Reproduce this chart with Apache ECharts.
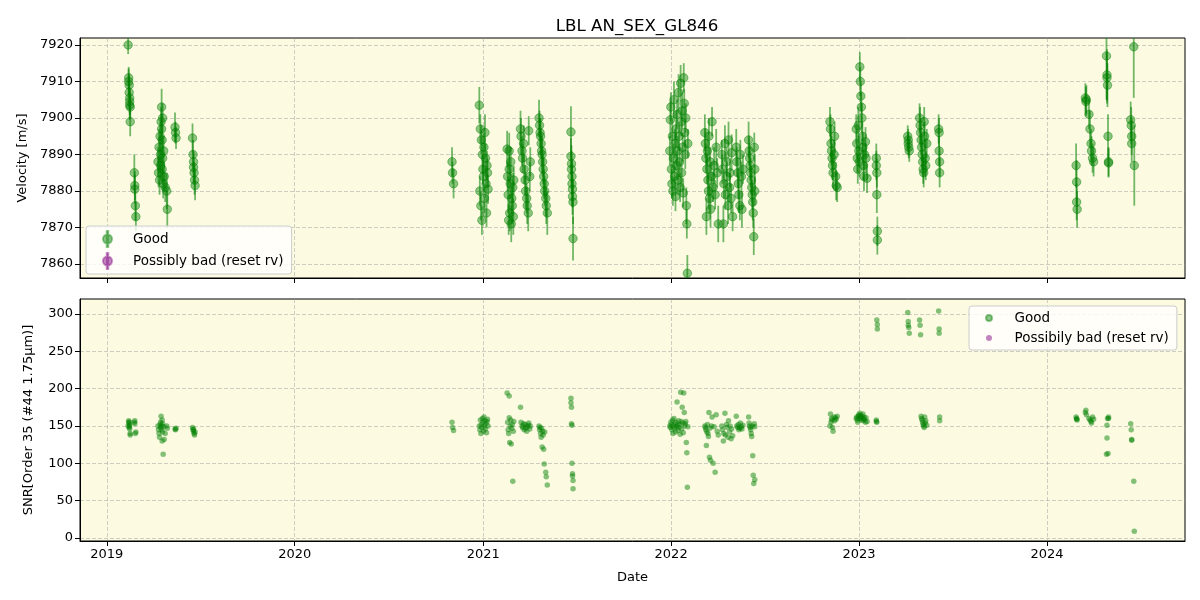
<!DOCTYPE html>
<html>
<head>
<meta charset="utf-8">
<script src="https://cdn.jsdelivr.net/npm/echarts@6/dist/echarts.min.js"></script>
<style>
html,body{margin:0;padding:0;background:#fff;}
#chart{width:1200px;height:600px;}
</style>
</head>
<body>
<div id="chart"></div>
<script>
// ---------------- DATA (one line per observing season/cluster) ----------------
const obsDates = [
'2019-02-11','2019-02-12','2019-02-12','2019-02-13','2019-02-13','2019-02-14','2019-02-14','2019-02-14','2019-02-15','2019-02-15',
'2019-02-23','2019-02-24','2019-02-24','2019-02-25','2019-02-26',
'2019-04-10','2019-04-11','2019-04-12','2019-04-13','2019-04-14','2019-04-15','2019-04-15','2019-04-16','2019-04-17','2019-04-17','2019-04-18','2019-04-18','2019-04-19','2019-04-19','2019-04-20','2019-04-21','2019-04-22','2019-04-24','2019-04-27','2019-04-28',
'2019-05-13','2019-05-14','2019-05-15',
'2019-06-16','2019-06-17','2019-06-18','2019-06-18','2019-06-19','2019-06-20','2019-06-21',
'2020-11-01','2020-11-02','2020-11-04',
'2020-12-24','2020-12-25','2020-12-26','2020-12-27','2020-12-28','2020-12-29','2020-12-30','2020-12-31','2021-01-01','2021-01-02','2021-01-03','2021-01-04','2021-01-05','2021-01-06','2021-01-07','2021-01-08','2021-01-09','2021-01-10',
'2021-02-16','2021-02-17','2021-02-18','2021-02-19','2021-02-20','2021-02-20','2021-02-21','2021-02-22','2021-02-23','2021-02-24','2021-02-25','2021-02-26','2021-02-27','2021-02-28','2021-03-01',
'2021-03-14','2021-03-15','2021-03-17','2021-03-18','2021-03-20','2021-03-21','2021-03-23','2021-03-24','2021-03-26','2021-03-27','2021-03-29','2021-03-30','2021-04-01','2021-04-02',
'2021-04-19','2021-04-20','2021-04-21','2021-04-22','2021-04-23','2021-04-24','2021-04-25','2021-04-26','2021-04-27','2021-04-28','2021-04-29','2021-04-30','2021-05-02','2021-05-03','2021-05-05',
'2021-06-20','2021-06-20','2021-06-21','2021-06-21','2021-06-22','2021-06-22','2021-06-23','2021-06-23','2021-06-24','2021-06-24',
'2021-12-29','2021-12-30','2021-12-31','2022-01-01','2022-01-02','2022-01-03','2022-01-04','2022-01-05','2022-01-06','2022-01-07','2022-01-08','2022-01-09','2022-01-10','2022-01-11','2022-01-12','2022-01-13','2022-01-14','2022-01-15','2022-01-16','2022-01-17','2022-01-18','2022-01-19','2022-01-20','2022-01-21','2022-01-22','2022-01-23','2022-01-24','2022-01-25','2022-01-26','2022-01-27','2022-01-28','2022-01-29','2022-01-30','2022-01-31','2022-02-01','2022-02-02',
'2022-03-07','2022-03-08','2022-03-09','2022-03-10','2022-03-11','2022-03-12','2022-03-13','2022-03-14','2022-03-15','2022-03-16','2022-03-17','2022-03-18','2022-03-20','2022-03-21','2022-03-23','2022-03-25','2022-03-27','2022-03-29','2022-03-31','2022-04-02',
'2022-04-09','2022-04-10','2022-04-12','2022-04-13','2022-04-15','2022-04-16','2022-04-18','2022-04-19','2022-04-21','2022-04-22','2022-04-24','2022-04-25','2022-04-27','2022-04-28','2022-04-30',
'2022-05-07','2022-05-08','2022-05-10','2022-05-11','2022-05-12','2022-05-14','2022-05-15','2022-05-17','2022-05-18','2022-05-20',
'2022-05-31','2022-06-01','2022-06-02','2022-06-03','2022-06-04','2022-06-05','2022-06-06','2022-06-07','2022-06-08','2022-06-09','2022-06-10','2022-06-11','2022-06-12','2022-06-12',
'2022-11-05','2022-11-06','2022-11-07','2022-11-08','2022-11-09','2022-11-10','2022-11-11','2022-11-13','2022-11-14','2022-11-16','2022-11-17','2022-11-19',
'2022-12-26','2022-12-27','2022-12-28','2022-12-29','2022-12-30','2022-12-31','2023-01-01','2023-01-02','2023-01-03','2023-01-04','2023-01-05','2023-01-06','2023-01-07','2023-01-08','2023-01-09','2023-01-10','2023-01-11','2023-01-13','2023-01-14','2023-01-16',
'2023-02-03','2023-02-03','2023-02-04','2023-02-04','2023-02-05','2023-02-05',
'2023-04-05','2023-04-06','2023-04-06','2023-04-07','2023-04-08',
'2023-04-28','2023-04-29','2023-04-30','2023-05-01','2023-05-02','2023-05-03','2023-05-04','2023-05-05','2023-05-06','2023-05-07','2023-05-08','2023-05-09','2023-05-10','2023-05-12',
'2023-06-04','2023-06-05','2023-06-05','2023-06-06','2023-06-06',
'2024-02-26','2024-02-27','2024-02-27','2024-02-28',
'2024-03-15','2024-03-16','2024-03-17','2024-03-22','2024-03-24','2024-03-26','2024-03-27','2024-03-29','2024-03-31',
'2024-04-25','2024-04-26','2024-04-26','2024-04-27','2024-04-28','2024-04-29','2024-04-29',
'2024-06-11','2024-06-12','2024-06-13','2024-06-13','2024-06-17','2024-06-18'
];
const rvValues = [
7920.0,7911.0,7910.0,7909.0,7907.0,7905.5,7904.5,7903.5,7903.0,7899.0,
7885.0,7881.5,7880.5,7876.0,7873.0,
7888,7885,7892,7883,7895,7890,7887,7899,7903,7897,7894,7886,7889,7900,7882,7891,7884,7881,7880,7875,
7897.5,7896,7894.5,
7894.5,7890,7888,7886.5,7885,7883,7881.5,
7888,7885,7882,
7903.5,7880,7897,7876,7894,7872,7890,7886,7884,7892,7878,7896,7889,7882,7874,7887,7885,7880.5,
7891.5,7884,7879,7872,7891,7886,7874,7882,7888,7871,7878,7876,7881,7873,7883,
7897,7895,7891,7889,7893,7886,7883,7880,7878,7876,7874,7896.5,7884,7888,
7900,7898,7896,7895,7893,7891,7890,7888,7886,7884,7882,7880,7878,7876,7874,
7896.2,7889.5,7887.5,7886,7884,7882,7880.5,7878.5,7877,7867,
7891,7899.5,7903,7886,7882,7895,7880,7889,7905,7884,7893,7878.5,7897,7887,7901,7891,7883,7907,7895,7888,7881,7909.5,7899,7885,7902,7892,7879.5,7911,7904,7896,7890,7900,7876,7871,7857.5,7893,
7896,7893,7889,7873,7886,7891,7883,7880,7895,7878,7888,7875,7884,7899,7881,7887,7879,7892,7885,7871,
7890,7886,7871,7882,7893,7879,7888,7884,7876,7894,7881,7885,7878,7890.5,7873,
7892,7888,7885,7882,7879,7876,7890,7884,7875,7886,
7894,7891,7889,7887,7885,7883,7881,7879,7877,7874,7867.5,7892,7886,7880,
7899,7897,7893,7891,7889,7887,7885,7890,7895,7884,7881.5,7881,
7897,7893,7889,7886,7898,7891,7888,7914,7910,7906,7903,7900,7895,7892,7887,7884,7890,7893.5,7889,7883.5,
7889,7887,7885,7879,7869,7866.6,
7895,7894,7893,7892,7891,
7900,7898,7896,7894,7892,7890,7888,7886,7885,7899,7895,7889,7887,7893,
7897,7896,7891,7888,7885,
7887,7882.5,7877,7875,
7905.5,7904.5,7905,7901,7897,7893,7891,7889,7888,
7917,7911.8,7911,7909,7895,7888,7887.7,
7899.5,7898,7895,7893,7919.5,7887
];
const rvErrors = [
2.5,3.0,3.5,3.0,4.0,3.0,3.5,4.0,3.0,4.0,
5,4,4,4,4,
4,4,5,4,4,5,4,4,5,4,4,4,5,4,4,4,4,4,5,5,
4,3,3,
4,4,3,4,3,4,4,
4,3,4,
5,4,4,4,4,4,5,4,4,4,4,5,4,4,4,4,4,4,
5,4,5,4,5,4,5,4,4,5,4,5,4,5,4,
5,5,4,4,5,4,4,5,4,5,5,4,4,4,
5,4,4,5,4,4,5,4,4,5,4,4,5,5,6,
7,5,5,5,5,6,5,5,6,6,
4,5,4,4,4,5,4,4,5,4,4,4,5,4,4,4,4,5,4,4,4,5,4,4,5,4,4,4,4,4,4,4,5,4,5,4,
5,4,4,5,4,4,4,5,5,4,4,5,4,4,4,5,4,5,4,5,
4,4,5,4,5,4,4,4,5,5,4,4,4,5,4,
5,4,4,4,5,4,4,4,5,4,
5,4,4,4,4,4,4,4,5,4,5,4,4,4,
4,4,5,4,4,4,4,4,4,4,4,4,
4,4,4,4,5,4,4,4,4,4,4,4,4,4,4,4,4,4,4,4,
4,4,4,5,4,4,
3,3,3,3,3,
4,5,4,4,4,4,4,4,4,4,4,5,4,4,
4,4,4,4,4,
6,6,5,5,
4,4,4,4,5,4,4,4,4,
12,7,7,6,6,4,4,
5,5,5,5,14,11
];
const snrValues = [
150,155,157,152,148,155,150,146,140,138,
155,157,153,140,142,
150,145,140,135,152,148,155,163,150,145,158,130,142,153,112,149,132,140,150,147,
146,145,147,
148,145,146,143,140,138,142,
155,148,144,
150,145,158,140,152,148,160,155,143,162,150,157,146,153,141,156,159,150,
194,155,145,140,190,161,128,150,158,126,147,152,76,143,156,
175,155,150,148,153,145,152,147,143,149,151,154,146,150,
150,145,148,140,135,147,122,143,138,119,99,142,88,82,71,
187,181,175,153,151,100,86,83,77,66,
150,148,155,152,145,158,140,150,160,147,153,142,155,149,182,151,144,157,148,152,139,195,156,146,175,154,141,194,168,150,153,156,128,114,68,149,
150,148,145,124,142,152,140,136,168,108,147,104,150,162,100,149,88,165,143,138,
150,145,130,140,167,138,152,148,135,157,142,150,133,146,137,
163,150,148,152,145,147,154,149,146,151,
162,154,150,148,145,140,136,150,110,84,73,153,149,78,
150,166,155,160,158,148,143,162,157,161,159,163,
160,162,158,155,163,165,160,167,164,161,158,163,160,166,157,162,159,155,161,156,
158,156,155,292,286,280,
302,290,285,282,274,
292,285,272,163,160,158,155,152,150,148,162,154,157,151,
304,280,274,162,157,
162,160,159,158,
168,171,165,160,158,156,154,162,159,
112,134,151,160,113,162,160,
153,145,132,131,76,9
];
const yearTickLabels = [2019, 2020, 2021, 2022, 2023, 2024];
const rvTickValues = [7860, 7870, 7880, 7890, 7900, 7910, 7920];
const snrTickValues = [0, 50, 100, 150, 200, 250, 300];
const legendTop = ['Good', 'Possibly bad (reset rv)'];
const legendBottom = ['Good', 'Possibily bad (reset rv)'];

// ---------------- BUILD ----------------
function toTs(s) { const p = s.split('-').map(Number); return Date.UTC(p[0], p[1] - 1, p[2], 12); }
const ts = obsDates.map(toTs);
const n = Math.min(ts.length, rvValues.length, rvErrors.length, snrValues.length);
const errData = [], rvData = [], snrData = [];
for (let i = 0; i < n; i++) {
  errData.push([ts[i], rvValues[i], rvErrors[i]]);
  rvData.push([ts[i], rvValues[i]]);
  snrData.push([ts[i], snrValues[i]]);
}
const yearTicks = yearTickLabels.map(y => Date.UTC(y, 0, 1));
const X_MIN = Date.UTC(2018, 10, 10);
const X_MAX = Date.UTC(2024, 8, 25);

const FONT = 'DejaVu Sans';
const GREEN = 'rgba(0,128,0,0.55)';
const PURPLE = 'rgba(128,0,128,0.55)';
const gridLine = { show: true, lineStyle: { color: 'rgba(150,150,150,0.45)', type: [4, 2], width: 1 } };
const labelStyle = { color: '#000', fontFamily: FONT, fontSize: 13 };

function xAxisCfg(idx, showLabels) {
  return {
    type: 'value', gridIndex: idx, min: X_MIN, max: X_MAX, scale: true,
    axisLine: { show: true, onZero: false, lineStyle: { color: '#000', width: 1 } },
    axisTick: { show: true, customValues: yearTicks, length: 5, lineStyle: { color: '#000' } },
    axisLabel: Object.assign({ show: showLabels, customValues: yearTicks, margin: 7,
      formatter: v => String(new Date(v).getUTCFullYear()) }, labelStyle),
    splitLine: gridLine,
    name: showLabels ? 'Date' : '', nameLocation: 'middle', nameGap: 30,
    nameTextStyle: { color: '#000', fontFamily: FONT, fontSize: 13 }
  };
}
function yAxisCfg(idx, min, max, ticks, name, gap) {
  return {
    type: 'value', gridIndex: idx, min: min, max: max, scale: true,
    axisLine: { show: true, onZero: false, lineStyle: { color: '#000', width: 1 } },
    axisTick: { show: true, customValues: ticks, length: 5, lineStyle: { color: '#000' } },
    axisLabel: Object.assign({ customValues: ticks, margin: 7, formatter: v => String(v) }, labelStyle),
    splitLine: gridLine,
    name: name, nameLocation: 'middle', nameGap: gap,
    nameTextStyle: { color: '#000', fontFamily: FONT, fontSize: 13 }
  };
}

const errIcon = 'path://M4.25,0h1.5v16h-1.5z M0.5,8a4.5,4.5 0 1,1 9,0a4.5,4.5 0 1,1 -9,0z';
const legendBox = {
  orient: 'vertical', backgroundColor: 'rgba(255,255,255,0.8)', borderColor: '#cccccc',
  borderWidth: 1, borderRadius: 3, selectedMode: false,
  textStyle: { color: '#000', fontFamily: FONT, fontSize: 13.5 }
};

const chart = echarts.init(document.getElementById('chart'), null, { renderer: 'canvas' });
chart.setOption({
  animation: false,
  backgroundColor: '#ffffff',
  title: {
    text: 'LBL AN_SEX_GL846', left: 632, top: 13, textAlign: 'center',
    textStyle: { color: '#000', fontFamily: FONT, fontSize: 16.7, fontWeight: 'normal' }
  },
  grid: [
    { left: 80, right: 15, top: 38, height: 240, show: true, backgroundColor: '#fcfbe2', borderColor: '#000', borderWidth: 1 },
    { left: 80, right: 15, top: 299, height: 242, show: true, backgroundColor: '#fcfbe2', borderColor: '#000', borderWidth: 1 }
  ],
  xAxis: [xAxisCfg(0, false), xAxisCfg(1, true)],
  yAxis: [
    yAxisCfg(0, 7856.2, 7921.9, rvTickValues, 'Velocity [m/s]', 50),
    yAxisCfg(1, -4, 320, snrTickValues, 'SNR[Order 35 (#44 1.75μm)]', 45)
  ],
  legend: [
    Object.assign({}, legendBox, {
      left: 86, top: 226, padding: [4, 8, 4, 16], itemGap: 4, itemWidth: 41, itemHeight: 16,
      data: [{ name: legendTop[0], icon: errIcon }, { name: legendTop[1], icon: errIcon }]
    }),
    Object.assign({}, legendBox, {
      left: 969, top: 306, padding: [5, 8, 5, 16], itemGap: 6, itemWidth: 41, itemHeight: 6,
      data: [{ name: legendBottom[0], icon: 'circle' }, { name: legendBottom[1], icon: 'circle' }]
    })
  ],
  series: [
    {
      type: 'custom', name: 'errbars', xAxisIndex: 0, yAxisIndex: 0, clip: true, silent: true, z: 1,
      data: errData, encode: { x: 0, y: 1 },
      renderItem: function (params, api) {
        const x = api.value(0), y = api.value(1), e = api.value(2);
        const a = api.coord([x, y - e]), b = api.coord([x, y + e]);
        return { type: 'line', shape: { x1: a[0], y1: a[1], x2: b[0], y2: b[1] },
          style: { stroke: GREEN, lineWidth: 1.8 } };
      }
    },
    {
      type: 'scatter', name: legendTop[0], xAxisIndex: 0, yAxisIndex: 0, data: rvData, z: 2,
      symbol: 'circle', symbolSize: 8.5, symbolKeepAspect: true, silent: true,
      itemStyle: { color: GREEN, borderColor: GREEN, borderWidth: 1 }
    },
    {
      type: 'scatter', name: legendTop[1], xAxisIndex: 0, yAxisIndex: 0, data: [], symbolKeepAspect: true,
      itemStyle: { color: PURPLE, borderColor: PURPLE, borderWidth: 1 }
    },
    {
      type: 'scatter', name: legendBottom[0], xAxisIndex: 1, yAxisIndex: 1, data: snrData, z: 2,
      symbol: 'circle', symbolSize: 5.5, silent: true, symbolKeepAspect: true,
      itemStyle: { color: 'rgba(0,128,0,0.6)' }
    },
    {
      type: 'scatter', name: legendBottom[1], xAxisIndex: 1, yAxisIndex: 1, data: [], symbolKeepAspect: true,
      itemStyle: { color: 'rgba(128,0,128,0.6)' }
    }
  ]
});
</script>
</body>
</html>
